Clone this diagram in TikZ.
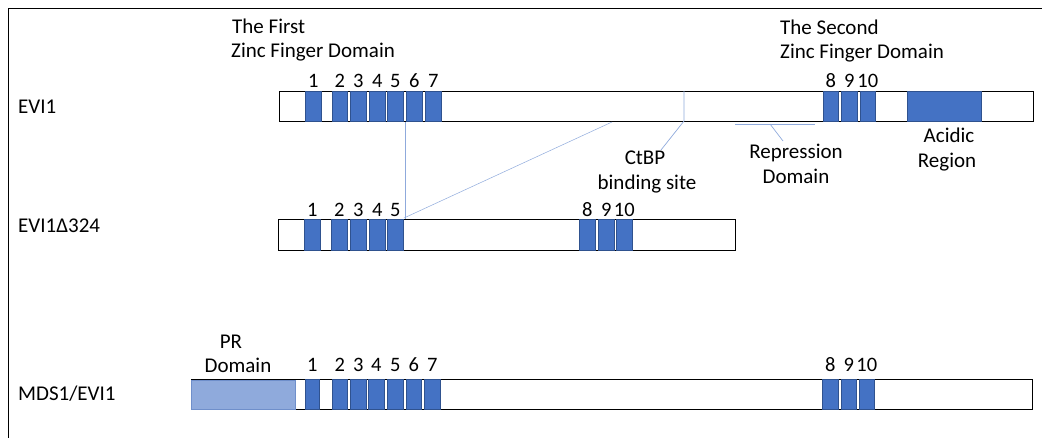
\documentclass[tikz,border=0pt]{standalone}
\usepackage{fontspec}
\setmainfont{Carlito}
\definecolor{zfblue}{HTML}{4472C4}
\definecolor{zfedge}{HTML}{2F528F}
\definecolor{prblue}{HTML}{8FAADC}
\definecolor{predge}{HTML}{6F8FCB}
\definecolor{linkblue}{HTML}{8FAADC}
\begin{document}
\begin{tikzpicture}[x=1pt,y=-1pt,
  bar/.style={draw=black, line width=1pt, fill=white, inner sep=0, anchor=north west, minimum height=30pt},
  zf/.style={draw=zfedge, line width=0.5pt, fill=zfblue, inner sep=0, anchor=north west, minimum height=30pt},
  prbox/.style={draw=predge, line width=0.5pt, fill=prblue, inner sep=0, anchor=north west, minimum height=29pt},
  txt/.style={inner sep=0, font=\fontsize{21}{25}\selectfont},
  num/.style={inner sep=0, anchor=base, font=\fontsize{20.5}{24}\selectfont},
  link/.style={draw=linkblue, line width=0.7pt}]
\useasboundingbox (0,0) rectangle (1042,438);
% frame
\draw[line width=1pt] (8,438) -- (8,9) -- (1042,9);

% titles
\node[txt, anchor=base west] (t1a) at (232,34) {The First};
\node[txt, anchor=base west] (t1b) at (231,58) {Zinc Finger Domain};
\node[txt, anchor=base west] (t2a) at (780,35) {The Second};
\node[txt, anchor=base west] (t2b) at (780,59) {Zinc Finger Domain};

% row labels
\node[txt, anchor=base west] (r1) at (18,114) {EVI1};
\node[txt, anchor=base west] (r2) at (18,233) {EVI1Δ324};
\node[txt, anchor=base west] (r3) at (18,400) {MDS1/EVI1};

% EVI1
\node[bar, minimum width=754pt] (evi) at (279,91) {};
\foreach \n/\a/\b in {1/305/321,2/332/347,3/350/366,4/369/385,5/387/403,6/406/422,7/425/441,8/823/838,9/841/857,10/860/875}{
  \node[zf, minimum width={(\b-\a)*1pt}] (e\n) at (\a,91) {};
  \node[num] (le\n) at ([yshift=3pt]e\n.north) {\n};
}
\node[zf, minimum width=74pt] (acid) at (907,91) {};

% EVI1 delta 324
\node[bar, minimum width=457pt, minimum height=31pt] (del) at (278,219) {};
\foreach \n/\a/\b in {1/304/320,2/331/347,3/350/366,4/369/385,5/387/403,8/579/595,9/598/614,10/616/632}{
  \node[zf, minimum width={(\b-\a)*1pt}, minimum height=31pt] (d\n) at (\a,219) {};
  \node[num] (ld\n) at ([yshift=2pt]d\n.north) {\n};
}

% MDS1/EVI1
\node[bar, minimum width=841pt] (mds) at (191,379) {};
\node[prbox, minimum width=104pt] (pr) at (191,380) {};
\foreach \n/\a/\b in {1/305/319,2/332/347,3/350/366,4/368/384,5/387/403,6/406/421,7/424/440,8/822/838,9/841/856,10/859/874}{
  \node[zf, minimum width={(\b-\a)*1pt}] (m\n) at (\a,379) {};
  \node[num] (lm\n) at ([yshift=7pt]m\n.north) {\n};
}

% annotations
\node[txt, anchor=base] (ct1) at (645,165) {CtBP};
\node[txt, anchor=base] (ct2) at (647,190) {binding site};
\node[txt, anchor=base] (rp1) at (796,159) {Repression};
\node[txt, anchor=base] (rp2) at (796,184) {Domain};
\node[txt, anchor=base] (ac1) at (949,143) {Acidic};
\node[txt, anchor=base] (ac2) at (947,168) {Region};
\node[txt, anchor=base] (pr1) at (231,349) {PR};
\node[txt, anchor=base] (pr2) at (238,373) {Domain};

% connectors
\coordinate (ctA) at (684,91);
\coordinate (ctB) at (684,121);
\coordinate (ctC) at (661,150);
\draw[link] (ctA) -- (ctB) -- (ctC);
\coordinate (rpL) at (735,124);
\coordinate (rpR) at (815,124);
\coordinate (rpM) at (770,124);
\coordinate (rpT) at (783,141);
\draw[link] (rpL) -- (rpR);
\draw[link] (rpM) -- (rpT);
\coordinate (vA) at (405,122);
\coordinate (vB) at (405,219);
\draw[link, line width=0.5pt] (vA) -- (vB);
\coordinate (gA) at (612,122);
\coordinate (gB) at (404,218);
\draw[link, line width=0.5pt] (gA) -- (gB);
\end{tikzpicture}
\end{document}
